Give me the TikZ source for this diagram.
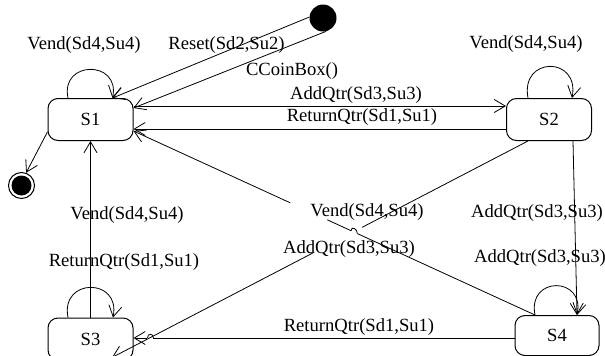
\documentclass[tikz,border=0pt]{standalone}
\usepackage{fontspec}
\setmainfont{Liberation Serif}
\usetikzlibrary{arrows.meta}
\begin{document}
\begin{tikzpicture}[x=1pt,y=-1pt,
  lbl/.style={inner sep=0pt, font=\fontsize{18.6}{21}\selectfont},
  state/.style={draw, line width=1pt, rounded corners=10pt, minimum width=85pt, minimum height=42pt, inner sep=0pt, font=\fontsize{18.6}{21}\selectfont},
  tr/.style={line width=0.8pt},
  arr/.style={tr, -{Straight Barb[length=11pt,width=13pt,line width=0.8pt]}}]
\useasboundingbox (0,0) rectangle (605,356);
% states
\node[state] (S1) at (90.5,119.5) {S1};
\node[state] (S2) at (549,119.5) {S2};
\node[state] (S3) at (90.5,339) {S3};
\node[state, minimum width=84pt, minimum height=40pt] (S4) at (557,335.5) {S4};
\node[circle, fill, inner sep=0pt, minimum size=27pt] (init) at (323,18) {};
\node[circle, draw, line width=1pt, inner sep=0pt, minimum size=26pt] (fin) at (21.5,185.5) {};
\node[circle, fill, inner sep=0pt, minimum size=20pt] (finin) at (21.5,185.5) {};
% anchor points
\coordinate (s1loopL) at ([xshift=-22.5pt]S1.north);
\coordinate (s1top) at ([xshift=22pt]S1.north);
\coordinate (s1e1) at ([yshift=11.5pt]S1.east);
\coordinate (s1e2) at ([yshift=13.5pt]S1.east);
\coordinate (s1e3) at ([yshift=-9.5pt]S1.east);
\coordinate (s1e4) at ([yshift=-11.5pt]S1.east);
\coordinate (s2w1) at ([yshift=13.5pt]S2.west);
\coordinate (s2w2) at ([yshift=-9.5pt]S2.west);
\coordinate (s2loopL) at ([xshift=-21pt]S2.north);
\coordinate (s2loopR) at ([xshift=23pt]S2.north);
\coordinate (s2b1) at ([xshift=-21pt]S2.south);
\coordinate (s2b2) at ([xshift=24pt]S2.south);
\coordinate (s3loopL) at ([xshift=-22.5pt]S3.north);
\coordinate (s3loopR) at ([xshift=22.5pt]S3.north);
\coordinate (s3e) at ([yshift=1pt]S3.east);
\coordinate (s3b) at ([xshift=21.5pt,yshift=3pt]S3.south);
\coordinate (s4loopL) at ([xshift=-22pt]S4.north);
\coordinate (s4loopR) at ([xshift=20pt]S4.north);
\coordinate (s4w) at ([yshift=-2.5pt]S4.west);
% initial transitions
\draw[arr] (init.176) -- (s1top);
\draw[arr] (init.283) -- (s1e1);
% S1 <-> S2
\draw[arr] (s1e2) -- (s2w1);
\draw[arr] (s2w2) -- (s1e3);
% self loops
\draw[arr] (s1loopL) .. controls +(-8,-38) and +(8,-38) .. (s1top);
\draw[arr] (s2loopL) .. controls +(-8,-42) and +(8,-42) .. (s2loopR);
\draw[arr] (s3loopL) .. controls +(-8,-40) and +(8,-40) .. (s3loopR);
\draw[arr] (s4loopL) .. controls +(-8,-39) and +(8,-39) .. (s4loopR);
% S3 -> S1, S1 -> final, S2 -> S4
\draw[arr] (S3.north) -- (S1.south);
\draw[arr] (S1.196) -- (fin.70);
\draw[arr] (s2b2) -- (s4loopR);
% S4 -> S1 with hop and gap
\path (s4loopL) -- (s1e4)
  coordinate[pos=0.4423] (h1) coordinate[pos=0.4581] (h2)
  coordinate[pos=0.5174] (g1) coordinate[pos=0.6095] (g2);
\draw[tr] (s4loopL) -- (h1);
\draw[tr] (h1) .. controls +(0,-5) and +(0,-5) .. (h2);
\draw[tr] (h2) -- (g1);
\draw[arr] (g2) -- (s1e4);
% S2 -> S3 with gap
\path (s2b1) -- (s3b) coordinate[pos=0.399] (k1) coordinate[pos=0.517] (k2);
\draw[tr] (s2b1) -- (k1);
\draw[arr] (k2) -- (s3b);
% S4 -> S3 with hop
\path (s4w) -- (s3e) coordinate[pos=0.9476] (p1) coordinate[pos=0.9634] (p2);
\draw[tr] (s4w) -- (p1);
\draw[tr] (p1) .. controls +(0,-5) and +(0,-5) .. (p2);
\draw[arr] (p2) -- (s3e);
% labels
\node[lbl] (l1) at (84,45) {Vend(Sd4,Su4)};
\node[lbl] (l2) at (226.5,45) {Reset(Sd2,Su2)};
\node[lbl] (l3) at (292,71) {CCoinBox()};
\node[lbl] (l4) at (356,95) {AddQtr(Sd3,Su3)};
\node[lbl] (l5) at (362,117) {ReturnQtr(Sd1,Su1)};
\node[lbl] (l6) at (526,44) {Vend(Sd4,Su4)};
\node[lbl] (l7) at (127,215) {Vend(Sd4,Su4)};
\node[lbl] (l8) at (124,262) {ReturnQtr(Sd1,Su1)};
\node[lbl] (l9) at (367,212) {Vend(Sd4,Su4)};
\node[lbl] (l10) at (349,249.5) {AddQtr(Sd3,Su3)};
\node[lbl] (l11) at (537,213) {AddQtr(Sd3,Su3)};
\node[lbl] (l12) at (540,258) {AddQtr(Sd3,Su3)};
\node[lbl] (l13) at (359,327) {ReturnQtr(Sd1,Su1)};
\end{tikzpicture}
\end{document}
